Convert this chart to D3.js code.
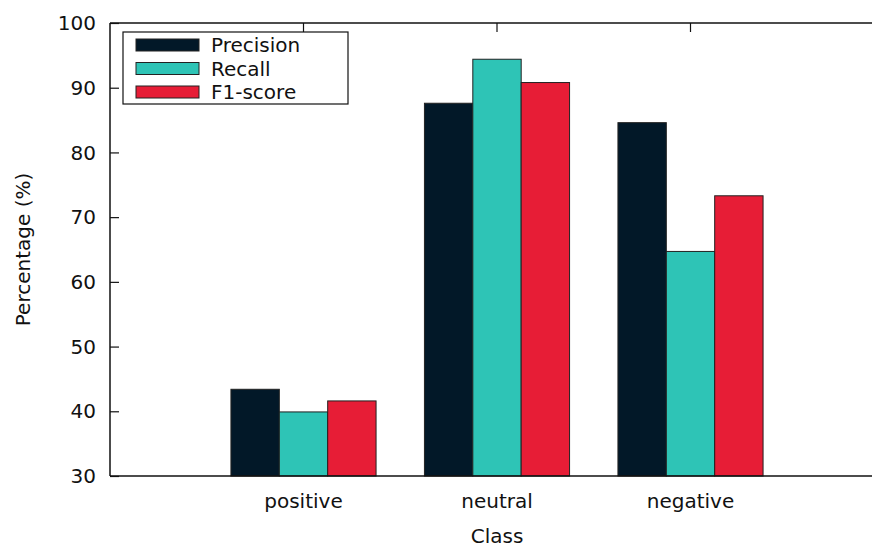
<!DOCTYPE html>
<html>
<head>
<meta charset="utf-8">
<script src="https://cdn.jsdelivr.net/npm/d3@7"></script>
<style>
  body { margin: 0; background: #fff; }
  svg text { font-family: "DejaVu Sans", sans-serif; fill: #111; }
</style>
</head>
<body>
<div id="plot"></div>
<script>
var classes = ["positive", "neutral", "negative"];
var metrics = ["Precision", "Recall", "F1-score"];
var precision = [43.4, 87.6, 84.6];
var recall = [39.9, 94.4, 64.7];
var f1score = [41.6, 90.8, 73.3];
var yTicks = [30, 40, 50, 60, 70, 80, 90, 100];
var colors = ["#021828", "#2ec4b6", "#e71d36"];

var series = [precision, recall, f1score];

var W = 872, H = 544;
var margin = {top: 23, left: 110, bottom: 68};
var plotRight = 884; // plot frame continues past the picture edge

var svg = d3.select('#plot').append('svg')
    .attr('width', W)
    .attr('height', H);

var x = d3.scaleBand()
    .domain(classes)
    .range([margin.left, plotRight])
    .paddingInner(0)
    .paddingOuter(0.5);

var xs = d3.scaleBand()
    .domain(metrics)
    .range([0, x.bandwidth() * 0.75]);

var y = d3.scaleLinear()
    .domain([30, 100])
    .range([H - margin.bottom, margin.top]);

var data = [];
classes.forEach(function(c, i) {
    metrics.forEach(function(m, j) {
        data.push({cls: c, metric: m, value: series[j][i], k: j});
    });
});

// bars
svg.append('g').selectAll('rect')
    .data(data)
  .enter().append('rect')
    .attr('x', function(d) { return x(d.cls) + x.bandwidth() * 0.125 + xs(d.metric); })
    .attr('y', function(d) { return y(d.value); })
    .attr('width', xs.bandwidth())
    .attr('height', function(d) { return y(30) - y(d.value); })
    .style('fill', function(d) { return colors[d.k]; })
    .style('stroke', '#222')
    .style('stroke-width', 1);

// frame (left, top, bottom)
var frame = svg.append('g').style('stroke', '#111').style('stroke-width', 1.5).style('fill', 'none');
frame.append('line').attr('x1', margin.left).attr('x2', margin.left).attr('y1', y(100)).attr('y2', y(30));
frame.append('line').attr('x1', margin.left).attr('x2', plotRight).attr('y1', y(100)).attr('y2', y(100));
frame.append('line').attr('x1', margin.left).attr('x2', plotRight).attr('y1', y(30)).attr('y2', y(30));

// y axis, ticks pointing inward
var yAxis = d3.axisRight(y).tickValues(yTicks).tickSize(9).tickFormat('');
svg.append('g')
    .attr('transform', 'translate(' + margin.left + ',0)')
    .call(yAxis)
    .call(function(g) { g.select('.domain').remove(); })
    .selectAll('line').style('stroke', '#111').style('stroke-width', 1.2);

svg.append('g').selectAll('text')
    .data(yTicks)
  .enter().append('text')
    .attr('x', 96)
    .attr('y', function(d) { return y(d); })
    .attr('dy', '0.36em')
    .attr('text-anchor', 'end')
    .style('font-size', '20px')
    .text(function(d) { return d; });

// x axis: mirrored ticks at top, labels below
var xTop = d3.axisBottom(x).tickSize(9).tickFormat('');
svg.append('g')
    .attr('transform', 'translate(0,' + y(100) + ')')
    .call(xTop)
    .call(function(g) { g.select('.domain').remove(); })
    .selectAll('line').style('stroke', '#111').style('stroke-width', 1.2);

svg.append('g').selectAll('text')
    .data(classes)
  .enter().append('text')
    .attr('x', function(d) { return x(d) + x.bandwidth() / 2; })
    .attr('y', 508)
    .attr('text-anchor', 'middle')
    .style('font-size', '20px')
    .text(function(d) { return d; });

// axis titles
svg.append('text')
    .attr('x', x('neutral') + x.bandwidth() / 2)
    .attr('y', 543)
    .attr('text-anchor', 'middle')
    .style('font-size', '20px')
    .text('Class');

svg.append('text')
    .attr('transform', 'translate(30,' + ((y(30) + y(100)) / 2) + ') rotate(-90)')
    .attr('text-anchor', 'middle')
    .style('font-size', '20px')
    .text('Percentage (%)');

// legend
var legendBox = svg.append('g').attr('transform', 'translate(123,32)');
legendBox.append('rect')
    .attr('width', 225)
    .attr('height', 72)
    .style('fill', '#fff')
    .style('stroke', '#111')
    .style('stroke-width', 1.2);

var legend = legendBox.selectAll('.legend')
    .data(metrics)
  .enter().append('g')
    .attr('class', 'legend')
    .attr('transform', function(d, i) { return 'translate(0,' + (13 + i * 23.5) + ')'; });

legend.append('rect')
    .attr('x', 13)
    .attr('y', -6)
    .attr('width', 63)
    .attr('height', 12)
    .style('fill', function(d, i) { return colors[i]; })
    .style('stroke', '#222');

legend.append('text')
    .attr('x', 88)
    .attr('dy', '0.36em')
    .style('font-size', '20px')
    .text(function(d) { return d; });
</script>
</body>
</html>
